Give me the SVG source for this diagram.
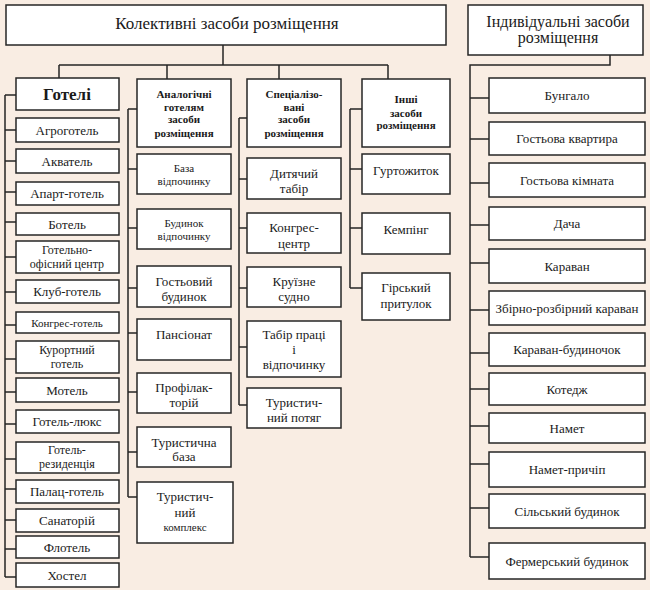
<svg xmlns="http://www.w3.org/2000/svg" width="650" height="590" viewBox="0 0 650 590" font-family="'Liberation Serif','Times New Roman',serif">
<style>
.b{fill:#fff;stroke:#262626;stroke-width:1.5}
.c{fill:none;stroke:#262626;stroke-width:1.5}
text{font-family:"Liberation Serif","Times New Roman","DejaVu Serif",serif;fill:#1a1a1a;text-anchor:middle}
.t13{font-size:13px}
.t12{font-size:12px}
.t11{font-size:11px}
.bd{font-size:11px;font-weight:bold}
</style>
<rect width="650" height="590" fill="#f9ede3"/>
<g id="connectors">
<path class="c" d="M223 45V65M59 65H388M59 65V78M167 65V80M279 65V79M388 65V79"/>
<path class="c" d="M610 55V65H470V557M470 98H489M470 139H489M470 183H489M470 225H489M470 263H489M470 310H489M470 353H489M470 389H489M470 426H489M470 464H489M470 508H489M470 557H489"/>
<path class="c" d="M5 95V577M5 95H16M5 130H16M5 161H16M5 192H16M5 222H16M5 257H16M5 292H16M5 325H16M5 359H16M5 392H16M5 424H16M5 459H16M5 489H16M5 520H16M5 549H16M5 577H16"/>
<path class="c" d="M128 109V497M128 109H137M128 169H137M128 228H137M128 288H137M128 333H137M128 392H137M128 452H137M128 497H137"/>
<path class="c" d="M239 118V405M239 118H247M239 179H247M239 228H247M239 288H247M239 347H247M239 405H247"/>
<path class="c" d="M350 109V288M350 109H362M350 169H362M350 228H362M350 288H362"/>
</g>
<g id="kolektyvni"><rect class="b" x="6" y="5" width="440" height="40"/><text x="227" y="29" style="font-size:17px">Колективні засоби розміщення</text></g>
<g id="indyvidualni"><rect class="b" x="468" y="5" width="175" height="50"/><text x="558" y="27" style="font-size:16px">Індивідуальні засоби</text><text x="558" y="43" style="font-size:16px">розміщення</text></g>

<g id="hoteli"><rect class="b" x="16" y="78" width="103" height="32"/><text x="67" y="100" style="font-size:17px;font-weight:bold">Готелі</text></g>
<g id="agro"><rect class="b" x="16" y="118" width="103" height="24"/><text class="t13" x="67" y="134.5">Агроготель</text></g>
<g id="akva"><rect class="b" x="16" y="149" width="103" height="24"/><text class="t13" x="67" y="165.5">Акватель</text></g>
<g id="apart"><rect class="b" x="16" y="182" width="103" height="23"/><text class="t13" x="67" y="198">Апарт-готель</text></g>
<g id="botel"><rect class="b" x="16" y="213" width="103" height="22"/><text class="t13" x="67" y="228.5">Ботель</text></g>
<g id="hotel-office"><rect class="b" x="16" y="241" width="103" height="32"/><text class="t12" x="67" y="253.5">Готельно-</text><text class="t12" x="67" y="267.5">офісний центр</text></g>
<g id="klub"><rect class="b" x="16" y="280" width="103" height="23"/><text class="t13" x="67" y="296">Клуб-готель</text></g>
<g id="kongres-hotel"><rect class="b" x="16" y="312" width="103" height="21"/><text class="t11" x="67" y="326.5">Конгрес-готель</text></g>
<g id="kurort"><rect class="b" x="16" y="341" width="103" height="32"/><text class="t12" x="67" y="354">Курортний</text><text class="t12" x="67" y="367.5">готель</text></g>
<g id="motel"><rect class="b" x="16" y="378" width="103" height="24"/><text class="t13" x="67" y="394.5">Мотель</text></g>
<g id="lux"><rect class="b" x="16" y="410" width="103" height="23"/><text class="t13" x="67" y="426">Готель-люкс</text></g>
<g id="rezydenciya"><rect class="b" x="16" y="442" width="103" height="31"/><text class="t12" x="67" y="454">Готель-</text><text class="t12" x="67" y="467.5">резиденція</text></g>
<g id="palac"><rect class="b" x="16" y="480" width="103" height="23"/><text class="t13" x="67" y="496">Палац-готель</text></g>
<g id="sanatoriy"><rect class="b" x="16" y="509" width="103" height="23"/><text class="t13" x="67" y="525">Санаторій</text></g>
<g id="flotel"><rect class="b" x="16" y="536" width="103" height="22"/><text class="t13" x="67" y="551.5">Флотель</text></g>
<g id="hostel"><rect class="b" x="16" y="563" width="103" height="24"/><text class="t13" x="67" y="579.5">Хостел</text></g>

<g id="analog"><rect class="b" x="137" y="79" width="94" height="68"/><text class="bd" x="184" y="98">Аналогічні</text><text class="bd" x="184" y="111">готелям</text><text class="bd" x="184" y="123">засоби</text><text class="bd" x="184" y="137">розміщення</text></g>
<g id="baza-vidp"><rect class="b" x="137" y="154" width="94" height="40"/><text class="t11" x="184" y="172">База</text><text class="t11" x="184" y="185">відпочинку</text></g>
<g id="budynok-vidp"><rect class="b" x="137" y="209" width="94" height="40"/><text class="t11" x="184" y="227">Будинок</text><text class="t11" x="184" y="240">відпочинку</text></g>
<g id="gostovyi"><rect class="b" x="137" y="266" width="94" height="41"/><text class="t13" x="184" y="285.5">Гостьовий</text><text class="t13" x="184" y="300.5">будинок</text></g>
<g id="pansionat"><rect class="b" x="137" y="319" width="94" height="41"/><text class="t13" x="184" y="338.5">Пансіонат</text></g>
<g id="profilaktoriy"><rect class="b" x="137" y="373" width="94" height="40"/><text class="t13" x="184" y="391.5">Профілак-</text><text class="t13" x="184" y="406.5">торій</text></g>
<g id="turbaza"><rect class="b" x="137" y="427" width="94" height="40"/><text class="t13" x="184" y="446.5">Туристична</text><text class="t13" x="184" y="460.5">база</text></g>
<g id="turkompleks"><rect class="b" x="137" y="482" width="96" height="61"/><text class="t13" x="185" y="500.5">Туристич-</text><text class="t13" x="185" y="516.5">ний</text><text class="t11" x="185" y="531">комплекс</text></g>

<g id="specializ"><rect class="b" x="247" y="79" width="94" height="68"/><text class="bd" x="294" y="98">Спеціалізо-</text><text class="bd" x="294" y="111">вані</text><text class="bd" x="294" y="123">засоби</text><text class="bd" x="294" y="137">розміщення</text></g>
<g id="dytyachyi"><rect class="b" x="247" y="158" width="94" height="41"/><text class="t13" x="294" y="177.5">Дитячий</text><text class="t13" x="294" y="192.5">табір</text></g>
<g id="kongres-centr"><rect class="b" x="247" y="213" width="94" height="40"/><text class="t13" x="294" y="231.5">Конгрес-</text><text class="t13" x="294" y="247.5">центр</text></g>
<g id="kruiz"><rect class="b" x="247" y="267" width="94" height="40"/><text class="t13" x="294" y="285.5">Круїзне</text><text class="t13" x="294" y="300.5">судно</text></g>
<g id="tabir-praci"><rect class="b" x="247" y="321" width="94" height="56"/><text class="t13" x="294" y="338.5">Табір праці</text><text class="t13" x="294" y="353.5">і</text><text class="t13" x="294" y="368.5">відпочинку</text></g>
<g id="turpotyag"><rect class="b" x="247" y="388" width="94" height="40"/><text class="t13" x="294" y="406.5">Туристич-</text><text class="t13" x="294" y="421.5">ний потяг</text></g>

<g id="inshi"><rect class="b" x="362" y="79" width="88" height="68"/><text class="bd" x="406" y="103">Інші</text><text class="bd" x="406" y="117">засоби</text><text class="bd" x="406" y="129">розміщення</text></g>
<g id="gurtozhytok"><rect class="b" x="362" y="154" width="88" height="40"/><text class="t13" x="406" y="174.5">Гуртожиток</text></g>
<g id="kemping"><rect class="b" x="362" y="213" width="88" height="41"/><text class="t13" x="406" y="233.5">Кемпінг</text></g>
<g id="girskyi"><rect class="b" x="362" y="273" width="88" height="47"/><text class="t13" x="406" y="291.5">Гірський</text><text class="t13" x="406" y="307.5">притулок</text></g>

<g id="bungalo"><rect class="b" x="489" y="78" width="156" height="35"/><text class="t13" x="567" y="100">Бунгало</text></g>
<g id="gost-kvartyra"><rect class="b" x="489" y="122" width="156" height="33"/><text class="t13" x="567" y="143">Гостьова квартира</text></g>
<g id="gost-kimnata"><rect class="b" x="489" y="163" width="156" height="34"/><text class="t13" x="567" y="184.5">Гостьова кімната</text></g>
<g id="dacha"><rect class="b" x="489" y="207" width="156" height="33"/><text class="t13" x="567" y="228">Дача</text></g>
<g id="karavan"><rect class="b" x="489" y="249" width="156" height="34"/><text class="t13" x="567" y="270.5">Караван</text></g>
<g id="zbirno"><rect class="b" x="489" y="291" width="156" height="34"/><text class="t13" x="567" y="312.5">Збірно-розбірний караван</text></g>
<g id="karavan-bud"><rect class="b" x="489" y="333" width="156" height="33"/><text class="t13" x="567" y="354">Караван-будиночок</text></g>
<g id="kotedzh"><rect class="b" x="489" y="373" width="156" height="32"/><text class="t13" x="567" y="393.5">Котедж</text></g>
<g id="namet"><rect class="b" x="489" y="413" width="156" height="30"/><text class="t13" x="567" y="432.5">Намет</text></g>
<g id="namet-prychip"><rect class="b" x="489" y="452" width="156" height="35"/><text class="t13" x="567" y="474">Намет-причіп</text></g>
<g id="silskyi"><rect class="b" x="489" y="494" width="156" height="34"/><text class="t13" x="567" y="515.5">Сільський будинок</text></g>
<g id="fermerskyi"><rect class="b" x="489" y="543" width="156" height="36"/><text class="t13" x="567" y="565.5">Фермерський будинок</text></g>
</svg>
